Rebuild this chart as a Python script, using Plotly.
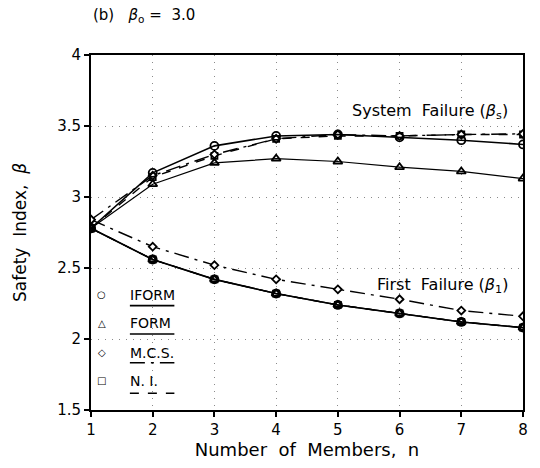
import plotly.graph_objects as go

# ---- data ----
n_members = [1, 2, 3, 4, 5, 6, 7, 8]
iform_system = [2.78, 3.17, 3.36, 3.43, 3.44, 3.42, 3.40, 3.37]
form_system = [2.78, 3.09, 3.24, 3.27, 3.25, 3.21, 3.18, 3.13]
mcs_system = [2.84, 3.15, 3.30, 3.41, 3.44, 3.43, 3.44, 3.445]
ni_system = [2.78, 3.14, 3.29, 3.41, 3.43, 3.43, 3.44, 3.44]
iform_first = [2.78, 2.56, 2.42, 2.32, 2.24, 2.18, 2.12, 2.08]
form_first = [2.78, 2.56, 2.42, 2.32, 2.24, 2.18, 2.12, 2.08]
mcs_first = [2.84, 2.65, 2.52, 2.42, 2.35, 2.28, 2.20, 2.16]
ni_first = [2.78, 2.56, 2.42, 2.32, 2.24, 2.18, 2.12, 2.08]

x_ticks = [1, 2, 3, 4, 5, 6, 7, 8]
y_ticks = [1.5, 2, 2.5, 3, 3.5, 4]
y_tick_labels = ["1.5", "2", "2.5", "3", "3.5", "4"]
legend_names = ["IFORM", "FORM", "M.C.S.", "N. I."]
legend_glyphs = ["○", "△", "◇", "□"]

FONT = "DejaVu Sans"

fig = go.Figure()

styles = [
    # name, system, first, dash, marker symbol, marker size, line width
    ("N. I.", ni_system, ni_first, "dash", "square-open", 6, 1.4),
    ("M.C.S.", mcs_system, mcs_first, "longdashdot", "diamond", 6, 1.4),
    ("FORM", form_system, form_first, "solid", "triangle-up-open", 8, 1.2),
    ("IFORM", iform_system, iform_first, "solid", "circle-open", 8, 1.6),
]
for name, sysv, firstv, dash, sym, msize, lw in styles:
    for vals in (sysv, firstv):
        fig.add_trace(go.Scatter(
            x=n_members, y=vals, mode="lines+markers", name=name,
            showlegend=False,
            line=dict(color="black", width=lw, dash=dash),
            marker=dict(symbol=sym, size=msize, color="white" if sym == "diamond" else "black",
                        line=dict(color="black", width=1.8)),
        ))

# custom legend (marker glyph + underlined style sample)
text_y = [0.325, 0.244, 0.161, 0.083]
line_y = [0.294, 0.214, 0.133, 0.047]
dashes = ["solid", "solid", "longdashdot", "dash"]
for i, (nm, gl) in enumerate(zip(legend_names, legend_glyphs)):
    fig.add_annotation(x=0.025, y=text_y[i], xref="paper", yref="paper", text=gl,
                       showarrow=False, xanchor="center", yanchor="middle",
                       font=dict(family=FONT, size=10, color="black"))
    fig.add_annotation(x=0.086, y=text_y[i], xref="paper", yref="paper", text=nm,
                       showarrow=False, xanchor="left", yanchor="middle",
                       font=dict(family=FONT, size=14, color="black"))
    fig.add_shape(type="line", xref="paper", yref="paper", x0=0.09, x1=0.193,
                  y0=line_y[i], y1=line_y[i],
                  line=dict(color="black", width=1.6, dash=dashes[i]))

fig.add_annotation(x=0.0, y=1.11, xref="paper", yref="paper",
                   text="(b)&nbsp;&nbsp;&nbsp;<i>β</i><sub>o</sub> =&nbsp; 3.0",
                   showarrow=False, xanchor="left", yanchor="middle",
                   font=dict(family=FONT, size=15, color="black"))
fig.add_annotation(x=0.97, y=3.60, xref="paper", yref="y",
                   text="System&nbsp; Failure (<i>β</i><sub>s</sub>)",
                   showarrow=False, xanchor="right", yanchor="middle",
                   font=dict(family=FONT, size=16, color="black"))
fig.add_annotation(x=0.97, y=2.38, xref="paper", yref="y",
                   text="First&nbsp; Failure (<i>β</i><sub>1</sub>)",
                   showarrow=False, xanchor="right", yanchor="middle",
                   font=dict(family=FONT, size=16, color="black"))

axis_common = dict(
    showline=True, linecolor="black", linewidth=2, mirror=True,
    ticks="outside", ticklen=5, tickwidth=1.5, tickcolor="black",
    showgrid=True, gridcolor="#8a8a8a", gridwidth=1, griddash="1px,6px",
    zeroline=False, tickfont=dict(family=FONT, size=15, color="black"),
)
fig.update_xaxes(range=[1, 8], tickvals=x_ticks,
                 title=dict(text="Number&nbsp; of&nbsp; Members,&nbsp; n",
                            font=dict(family=FONT, size=18, color="black"), standoff=4),
                 **axis_common)
fig.update_yaxes(range=[1.5, 4], tickvals=y_ticks, ticktext=y_tick_labels,
                 title=dict(text="Safety&nbsp; Index,&nbsp; <i>β</i>",
                            font=dict(family=FONT, size=17, color="black"), standoff=26),
                 **axis_common)

fig.update_layout(
    width=540, height=468,
    margin=dict(l=91, r=14, t=55, b=53),
    paper_bgcolor="white", plot_bgcolor="white",
    showlegend=False,
)

fig.write_html("out.html")
